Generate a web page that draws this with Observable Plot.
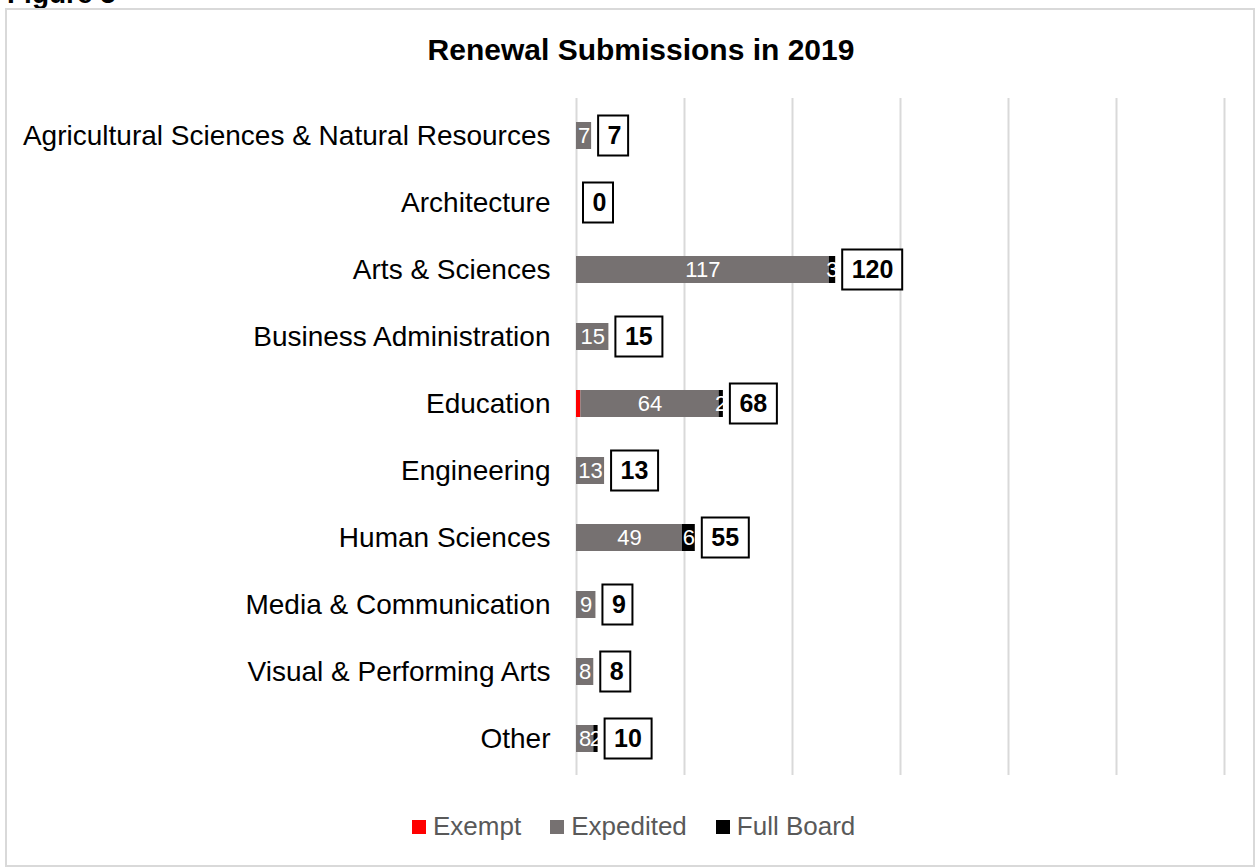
<!DOCTYPE html>
<html><head><meta charset="utf-8">
<script src="https://cdn.jsdelivr.net/npm/d3@7"></script>
<script src="https://cdn.jsdelivr.net/npm/@observablehq/plot@0.6"></script>
<style>
body{margin:0;background:#fff;overflow:hidden;}
#wrap{position:relative;width:1259px;height:867px;font-family:"Liberation Sans",Arial,sans-serif;overflow:hidden;}
#fig{position:absolute;left:7px;top:-20px;font-weight:bold;font-size:28px;line-height:28px;color:#000;white-space:nowrap;}
#frame{position:absolute;left:5px;top:8px;width:1246px;height:855px;border:2px solid #d9d9d9;background:#fff;}
#title{position:absolute;left:0;top:35px;width:1282px;text-align:center;font-weight:bold;font-size:30px;line-height:30px;color:#000;}
#chart{position:absolute;left:0;top:0;}
#legend{position:absolute;left:412px;top:810px;}
#legend div, #legend span{font-family:"Liberation Sans",Arial,sans-serif !important;font-size:26px !important;color:#595959 !important;}
.lg-swatch{margin-right:29px !important;}
.lg-swatch > svg{margin-right:7px !important;}
</style>
</head><body>
<div id="wrap">
  <div id="fig">Figure 5</div>
  <div id="frame"></div>
  <div id="title">Renewal Submissions in 2019</div>
  <div id="chart"></div>
  <div id="legend"></div>
</div>
<script>
const categories = ["Agricultural Sciences & Natural Resources","Architecture","Arts & Sciences","Business Administration","Education","Engineering","Human Sciences","Media & Communication","Visual & Performing Arts","Other"];
const seriesNames = ["Exempt","Expedited","Full Board"];
const seriesColors = ["#ff0000","#767171","#000000"];
const exempt    = [0,0,0,0,2,0,0,0,0,0];
const expedited = [7,0,117,15,64,13,49,9,8,8];
const fullBoard = [0,0,3,0,2,0,6,0,0,2];
const totals    = [7,0,120,15,68,13,55,9,8,10];
const gridTicks = [0,50,100,150,200,250,300];

const seriesArrays = [exempt, expedited, fullBoard];
const long = [];
categories.forEach((c,i)=>{
  seriesArrays.forEach((arr,j)=>long.push({category:c, series:seriesNames[j], value:arr[i]}));
});
const totalRows = categories.map((c,i)=>({category:c, total:totals[i], digits:String(totals[i]).length}));
const boxW = {1:30, 2:47, 3:60};

const chart = Plot.plot({
  width:1259, height:867,
  marginLeft:576, marginRight:35, marginTop:98, marginBottom:92,
  style:{fontFamily:'"Liberation Sans", Arial, sans-serif', background:"transparent", overflow:"visible", color:"#000"},
  x:{domain:[0,300], axis:null},
  y:{domain:categories, paddingInner:0.6, paddingOuter:0.3, axis:null},
  color:{domain:seriesNames, range:seriesColors},
  marks:[
    Plot.gridX({ticks:gridTicks, stroke:"#d9d9d9", strokeOpacity:1, strokeWidth:2}),
    Plot.axisY({tickSize:0, tickPadding:26, fontSize:28, fill:"#000", label:null}),
    Plot.barX(long, {x:"value", y:"category", fill:"series", z:"series"}),
    Plot.text(long, Plot.stackX({x:"value", y:"category", z:"series",
      text:d => (d.value>0 && d.series!=="Exempt") ? String(d.value) : null,
      fill:"white", fontSize:22})),
    ...[1,2,3].map(n => Plot.barX(totalRows.filter(d=>d.digits===n), {
      x1:"total", x2:"total", y:"category",
      insetLeft:7, insetRight:-(7+boxW[n]), insetTop:-6.5, insetBottom:-6.5,
      fill:"white", stroke:"black", strokeWidth:2})),
    Plot.text(totalRows, {x:"total", y:"category", text:d=>String(d.total), dx:16, textAnchor:"start",
      fontSize:25, fontWeight:"bold", fill:"black"})
  ]
});
document.getElementById("chart").appendChild(chart);

const legend = Plot.legend({color:{domain:seriesNames, range:seriesColors}, legend:"swatches", swatchSize:14, className:"lg"});
document.getElementById("legend").appendChild(legend);
</script>
</body></html>
